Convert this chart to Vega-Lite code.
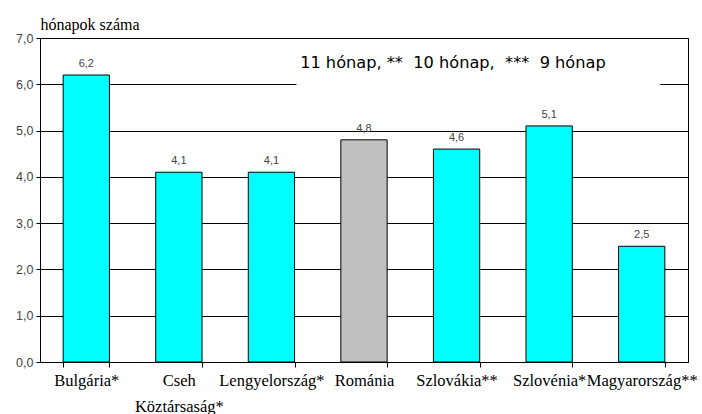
{
  "$schema": "https://vega.github.io/schema/vega-lite/v6.json",
  "width": 648,
  "height": 324,
  "autosize": {"type": "none"},
  "padding": {"left": 40, "top": 38, "right": 14, "bottom": 52},
  "background": "white",
  "config": {
    "locale": {"number": {"decimal": ",", "thousands": " ", "grouping": [3], "currency": ["", " Ft"]}},
    "view": {"stroke": "black", "strokeWidth": 1},
    "axis": {"domainColor": "black", "tickColor": "black", "gridColor": "black", "gridOpacity": 1}
  },
  "datasets": {
    "bars": [
      {"country": "Bulgária*", "value": 6.2, "group": "other"},
      {"country": "Cseh|Köztársaság*", "value": 4.1, "group": "other"},
      {"country": "Lengyelország*", "value": 4.1, "group": "other"},
      {"country": "Románia", "value": 4.8, "group": "ro"},
      {"country": "Szlovákia**", "value": 4.6, "group": "other"},
      {"country": "Szlovénia*", "value": 5.1, "group": "other"},
      {"country": "Magyarország**", "value": 2.5, "group": "other"}
    ],
    "note": [
      {"x0": 2.77, "x1": 6.7, "y0": 5.85, "y1": 6.85, "xm": 2.81, "ym": 6.46, "text": "11 hónap, **\u00a0 10 hónap,\u00a0 ***\u00a0 9 hónap"}
    ]
  },
  "layer": [
    {
      "data": {"name": "bars"},
      "layer": [
        {
          "mark": {"type": "bar", "stroke": "black", "strokeWidth": 1},
          "encoding": {
            "x": {
              "field": "country", "type": "nominal", "sort": null,
              "scale": {"paddingInner": 0.5, "paddingOuter": 0.25},
              "axis": {
                "title": null, "labelAngle": 0, "tickBand": "extent", "tickSize": 5,
                "labelFont": "Liberation Serif", "labelFontSize": 16.5, "labelColor": "black",
                "labelPadding": 5, "labelLineHeight": 26,
                "labelExpr": "datum.label === 'Magyarország**' ? '\u00a0\u00a0\u00a0\u00a0\u00a0Magyarország**' : split(datum.label, '|')",
                "labelOverlap": false
              }
            },
            "y": {
              "field": "value", "type": "quantitative",
              "scale": {"domain": [0, 7], "nice": false},
              "axis": {
                "values": [0, 1, 2, 3, 4, 5, 6, 7], "grid": true, "tickSize": 4, "format": ".1f",
                "labelFont": "Liberation Sans", "labelFontSize": 12.5, "labelColor": "#444444", "labelPadding": 3,
                "title": "hónapok száma", "titleAngle": 0, "titleX": 0, "titleY": -9,
                "titleAlign": "left", "titleBaseline": "alphabetic",
                "titleFont": "Liberation Serif", "titleFontSize": 16, "titleFontWeight": "normal", "titleColor": "black"
              }
            },
            "color": {
              "field": "group", "type": "nominal", "legend": null,
              "scale": {"domain": ["other", "ro"], "range": ["#00FFFF", "#C0C0C0"]}
            }
          }
        },
        {
          "mark": {"type": "text", "baseline": "alphabetic", "dy": -8, "font": "Liberation Sans", "fontSize": 11, "color": "#444444"},
          "encoding": {
            "x": {"field": "country", "type": "nominal", "sort": null},
            "y": {"field": "value", "type": "quantitative"},
            "text": {"field": "value", "type": "quantitative", "format": ".1f"}
          }
        }
      ]
    },
    {
      "data": {"name": "note"},
      "layer": [
        {
          "mark": {"type": "rect", "fill": "white", "stroke": null},
          "encoding": {
            "x": {"field": "x0", "type": "quantitative", "scale": {"domain": [0, 7], "nice": false}, "axis": null},
            "x2": {"field": "x1"},
            "y": {"field": "y0", "type": "quantitative", "scale": {"domain": [0, 7], "nice": false}},
            "y2": {"field": "y1"}
          }
        },
        {
          "mark": {"type": "text", "font": "DejaVu Sans", "fontSize": 16.2, "color": "black", "align": "left", "baseline": "middle"},
          "encoding": {
            "x": {"field": "xm", "type": "quantitative", "scale": {"domain": [0, 7], "nice": false}, "axis": null},
            "y": {"field": "ym", "type": "quantitative", "scale": {"domain": [0, 7], "nice": false}},
            "text": {"field": "text"}
          }
        }
      ]
    }
  ],
  "resolve": {"scale": {"x": "independent"}, "axis": {"x": "independent"}}
}
